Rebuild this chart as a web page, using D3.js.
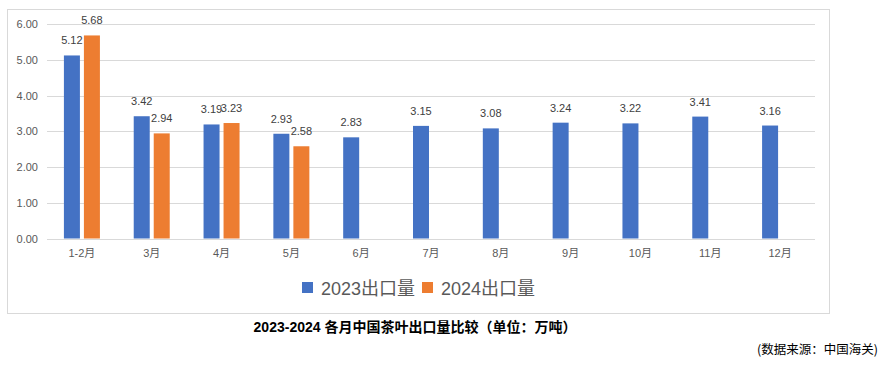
<!DOCTYPE html>
<html><head><meta charset="utf-8">
<script src="https://cdn.jsdelivr.net/npm/d3@7/dist/d3.min.js"></script>
<style>
html,body{margin:0;padding:0;background:#fff;}
svg{display:block;font-family:Arial,"Liberation Sans","Noto Sans CJK SC",sans-serif;}
</style></head>
<body><svg id="c" width="884" height="367"></svg>
<script>
const categories = ["1-2月","3月","4月","5月","6月","7月","8月","9月","10月","11月","12月"];
const seriesNames = ["2023出口量","2024出口量"];
const values2023 = [5.12,3.42,3.19,2.93,2.83,3.15,3.08,3.24,3.22,3.41,3.16];
const values2024 = [5.68,2.94,3.23,2.58,null,null,null,null,null,null,null];
const yTicks = [0,1,2,3,4,5,6];
const title = "2023-2024 各月中国茶叶出口量比较（单位：万吨）";
const source = "(数据来源：中国海关)";

(function(){
const colors = ["#4472C4","#ED7D31"];
const svg = d3.select("#c");

// frame
svg.append("rect").attr("x",7.5).attr("y",9.5).attr("width",822).attr("height",304)
  .attr("fill","none").attr("stroke","#d9d9d9").attr("stroke-width",1);

const pl=47, pr=815, pt=24, pb=238.5;
const x = d3.scaleBand().domain(categories).range([pl,pr]).paddingInner(0).paddingOuter(0);
const y = d3.scaleLinear().domain([0,6]).range([pb,pt]);
const barW = 16, gap = 4;

// gridlines
svg.append("g").selectAll("line").data(yTicks).join("line")
  .attr("x1",pl).attr("x2",pr)
  .attr("y1",d=>Math.round(y(d))+0.5).attr("y2",d=>Math.round(y(d))+0.5)
  .attr("stroke","#d9d9d9").attr("stroke-width",1);

// y axis labels
const yAxis = d3.axisLeft(y).tickValues(yTicks).tickFormat(d3.format(".2f")).tickSize(0).tickPadding(9);
const ga = svg.append("g").attr("transform",`translate(${pl},0)`).call(yAxis);
ga.select(".domain").remove();
ga.selectAll("text").attr("fill","#595959").attr("font-size",11).attr("font-family","Arial,'Liberation Sans',sans-serif");

// x axis labels
const xAxis = d3.axisBottom(x).tickSize(0).tickPadding(10.5);
const gx = svg.append("g").attr("transform",`translate(0,${pb})`).call(xAxis);
gx.select(".domain").remove();
gx.selectAll("text").attr("fill","#595959").attr("font-size",11).attr("font-family","Arial,'Liberation Sans','Noto Sans CJK SC',sans-serif");

const series = [values2023, values2024];
series.forEach((vals,si)=>{
  const data = categories.map((c,i)=>({c, v: vals[i]})).filter(d=>d.v!=null);
  const bx = d => x(d.c) + x.bandwidth()/2 - (barW*2+gap)/2 + si*(barW+gap);
  svg.append("g").selectAll("rect").data(data).join("rect")
    .attr("x",bx).attr("width",barW)
    .attr("y",d=>y(d.v)).attr("height",d=>pb-y(d.v))
    .attr("fill",colors[si]);
  svg.append("g").selectAll("text").data(data).join("text")
    .attr("x",d=>bx(d)+barW/2).attr("y",d=>y(d.v)-11)
    .attr("text-anchor","middle").attr("font-size",11).attr("fill","#404040")
    .text(d=>d.v.toFixed(2));
});

// legend
const leg = svg.append("g");
const legX = [302, 422];
seriesNames.forEach((n,i)=>{
  leg.append("rect").attr("x",legX[i]).attr("y",282).attr("width",11).attr("height",11).attr("fill",colors[i]);
  leg.append("text").attr("x",legX[i]+19).attr("y",294.5).attr("font-size",18).attr("fill","#595959")
    .attr("font-family","Arial,'Liberation Sans','Noto Sans CJK SC',sans-serif").text(n);
});

// title
svg.append("text").attr("x",415).attr("y",332).attr("text-anchor","middle")
  .attr("font-size",14).attr("font-weight","bold").attr("fill","#000")
  .attr("font-family","Arial,'Liberation Sans','Noto Sans CJK SC',sans-serif").text(title);

// source
svg.append("text").attr("x",878).attr("y",354).attr("text-anchor","end")
  .attr("font-size",12.5).attr("fill","#000")
  .attr("font-family","'Noto Sans CJK SC',sans-serif").text(source);
})();
</script></body></html>
